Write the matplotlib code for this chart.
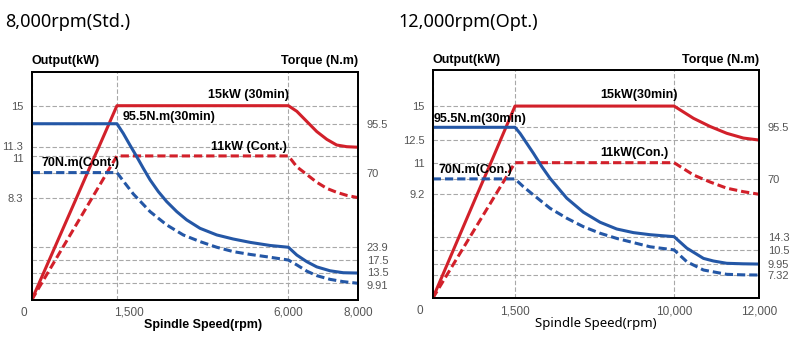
import numpy as np
import matplotlib
matplotlib.use('Agg')
import matplotlib.pyplot as plt
from matplotlib.transforms import ScaledTranslation

plt.rcParams['font.family'] = ['Liberation Sans', 'DejaVu Sans']

# ---- 8,000 rpm (Std.) ----
std_rpm_ticks = [0, 1500, 6000, 8000]
std_rpm_labels = ['0', '1,500', '6,000', '8,000']
std_kw_ticks = [8.3, 11, 11.3, 15]
std_nm_ticks = [9.91, 13.5, 17.5, 23.9, 70, 95.5]

std_p30_rpm = [0, 790, 1110, 1180, 1500, 6000, 6240, 6525, 6810, 7100, 7380, 7670, 8000]
std_p30_kw = [0, 8.3, 11, 11.3, 15, 15, 14.5, 13.6, 12.7, 12.0, 11.5, 11.35, 11.3]
std_pc_rpm = [0, 1065, 1500, 6000, 6240, 6525, 6810, 7100, 7380, 7670, 8000]
std_pc_kw = [0, 8.3, 11, 11, 10.3, 9.8, 9.3, 8.9, 8.65, 8.45, 8.3]
std_t30_rpm = [0, 1500, 1665, 1840, 2020, 2190, 2370, 2585, 2805, 3070, 3330, 3680,
               4120, 4550, 5000, 5520, 6000, 6240, 6525, 6810, 7190, 7570, 8000]
std_t30_nm = [95.5, 95.5, 90.5, 84.4, 78.3, 72.3, 65.5, 58.3, 52.1, 45.9, 40.8, 35.6,
              31.5, 29.0, 26.9, 25.0, 23.9, 20.0, 17.0, 15.4, 14.2, 13.6, 13.5]
std_tc_rpm = [0, 1500, 1710, 1930, 2370, 2805, 3240, 3680, 4120, 4555, 5000, 5520,
              6000, 6240, 6525, 6810, 7190, 7570, 8000]
std_tc_nm = [70, 70, 63.5, 56.8, 45.9, 37.7, 31.5, 27.4, 23.9, 21.7, 20.3, 18.9,
             17.5, 16.0, 14.1, 12.6, 11.3, 10.5, 9.91]

# ---- 12,000 rpm (Opt.) ----
opt_rpm_ticks = [0, 1500, 10000, 12000]
opt_rpm_labels = ['0', '1,500', '10,000', '12,000']
opt_kw_ticks = [9.2, 11, 12.5, 15]
opt_nm_ticks = [7.32, 9.95, 10.5, 14.3, 70, 95.5]

opt_p30_rpm = [0, 810, 1060, 1235, 1500, 10000, 10455, 10845, 11235, 11625, 12000]
opt_p30_kw = [0, 9.2, 11, 12.5, 15, 15, 14.1, 13.5, 13.0, 12.65, 12.5]
opt_pc_rpm = [0, 1150, 1500, 10000, 10455, 10845, 11235, 11625, 12000]
opt_pc_kw = [0, 9.2, 11, 11, 10.3, 9.9, 9.55, 9.35, 9.2]
opt_t30_rpm = [0, 1500, 1770, 2125, 2480, 2930, 3370, 3815, 4265, 5150, 6045, 6935,
               7825, 8715, 10000, 10300, 10690, 10920, 11235, 11625, 12000]
opt_t30_nm = [95.5, 95.5, 92.5, 87.6, 82.7, 76.1, 70.3, 61.0, 51.4, 37.9, 28.2, 21.7,
              18.2, 16.2, 14.3, 11.0, 10.17, 10.07, 9.98, 9.96, 9.95]
opt_tc_rpm = [0, 1500, 1945, 2480, 3370, 4265, 5150, 6045, 6935, 7825, 8715, 10000,
              10300, 10690, 11235, 11625, 12000]
opt_tc_nm = [70, 70, 62.5, 54.6, 41.7, 32.1, 23.95, 17.6, 13.8, 12.6, 11.4, 10.5,
             10.04, 8.52, 7.49, 7.36, 7.32]

# schematic (non linear) axis layout: tick value -> fraction of the axis
std_x_pos = [0, 0.261, 0.786, 1]
std_kw_top, std_kw_pos = 18.0, [0.448, 0.631, 0.669, 0.851]
std_nm_top, std_nm_pos = 122.5, [0.073, 0.118, 0.175, 0.231, 0.558, 0.772]
opt_x_pos = [0, 0.252, 0.739, 1]
opt_kw_top, opt_kw_pos = 17.7, [0.4555, 0.594, 0.693, 0.842]
opt_nm_top, opt_nm_pos = 124.0, [0.102, 0.150, 0.212, 0.270, 0.523, 0.749]

RED = '#d2202a'
BLUE = '#2457a6'
GRID = '#a8a8a8'
TICK = '#555555'


def piecewise(vals, pos):
    vals = np.asarray(vals, float)
    pos = np.asarray(pos, float)
    return (lambda v: np.interp(v, vals, pos),
            lambda f: np.interp(f, pos, vals))


def nudge(label, dx, dy):
    # shift a tick label by (dx, dy) points
    label.set_transform(label.get_transform() + ScaledTranslation(dx / 72, dy / 72, fig.dpi_scale_trans))


fig = plt.figure(figsize=(8, 3.37), dpi=100)


def chart(rect, xt, xl, xpos, kwt, kwtop, kwpos, nmt, nmtop, nmpos,
          p30, pc, t30, tc, texts):
    ax = fig.add_axes(rect)
    ax.set_xscale('function', functions=piecewise(xt, xpos))
    ax.set_yscale('function', functions=piecewise([0] + kwt + [kwtop], [0] + kwpos + [1]))
    ax.set_xlim(xt[0], xt[-1])
    ax.set_ylim(0, kwtop)
    ax2 = ax.twinx()
    ax2.set_yscale('function', functions=piecewise([0] + nmt + [nmtop], [0] + nmpos + [1]))
    ax2.set_ylim(0, nmtop)

    ax.set_xticks(xt)
    ax.set_xticklabels(xl)
    ax.set_yticks(kwt)
    ax.set_yticklabels([f'{v:g}' for v in kwt])
    ax2.set_yticks(nmt)
    ax2.set_yticklabels([f'{v:g}' for v in nmt])
    ax.minorticks_off()
    ax2.minorticks_off()
    for a in (ax, ax2):
        a.tick_params(length=0, labelsize=8, labelcolor=TICK)
        for s in a.spines.values():
            s.set_linewidth(1.3)
    ax.tick_params(axis='x', labelsize=8.5, pad=5)
    ax.tick_params(axis='y', pad=6)
    ax2.tick_params(axis='y', pad=6)
    ax.grid(True, color=GRID, ls=(0, (4, 2)), lw=0.8)
    ax2.grid(True, axis='y', color=GRID, ls=(0, (4, 2)), lw=0.8)

    # all curves on the top axes so the grid of both axes stays underneath
    ax2.plot(p30[0], p30[1], color=RED, lw=2.2, transform=ax.transData)
    ax2.plot(pc[0], pc[1], color=RED, lw=2.2, dashes=(2.7, 1.3), transform=ax.transData)
    ax2.plot(t30[0], t30[1], color=BLUE, lw=2.2)
    ax2.plot(tc[0], tc[1], color=BLUE, lw=2.2, dashes=(2.7, 1.3))

    for s, x, y, ha in texts:
        ax2.text(x, y, s, transform=ax2.transAxes, ha=ha, va='center',
                 fontsize=9, fontweight='bold')
    ax2.text(0, 1.045, 'Output(kW)', transform=ax2.transAxes, ha='left', va='center',
             fontsize=9, fontweight='bold')
    ax2.text(1, 1.045, 'Torque (N.m)', transform=ax2.transAxes, ha='right', va='center',
             fontsize=9, fontweight='bold')
    return ax, ax2


ax, ax2 = chart([0.0396, 0.1098, 0.4083, 0.6775], std_rpm_ticks, std_rpm_labels, std_x_pos,
                std_kw_ticks, std_kw_top, std_kw_pos, std_nm_ticks, std_nm_top, std_nm_pos,
                (std_p30_rpm, std_p30_kw), (std_pc_rpm, std_pc_kw),
                (std_t30_rpm, std_t30_nm), (std_tc_rpm, std_tc_nm),
                [('15kW (30min)', 0.665, 0.898, 'center'),
                 ('95.5N.m(30min)', 0.279, 0.800, 'left'),
                 ('11kW (Cont.)', 0.666, 0.671, 'center'),
                 ('70N.m(Cont.)', 0.031, 0.599, 'left')])
ax2.text(0.524, -0.11, 'Spindle Speed(rpm)', transform=ax2.transAxes, ha='center',
         va='center', fontsize=9, fontweight='bold')
xl = ax.get_xticklabels()
nudge(xl[0], -6, 0)
nudge(xl[1], 8.6, 0)
yl = ax.get_yticklabels()
nudge(yl[1], 0, -1.2)
nudge(yl[2], 0, 1.2)
yr = ax2.get_yticklabels()
nudge(yr[0], 0, -1.5)
nudge(yr[1], 0, 0.5)

ax, ax2 = chart([0.5409, 0.1148, 0.40825, 0.6775], opt_rpm_ticks, opt_rpm_labels, opt_x_pos,
                opt_kw_ticks, opt_kw_top, opt_kw_pos, opt_nm_ticks, opt_nm_top, opt_nm_pos,
                (opt_p30_rpm, opt_p30_kw), (opt_pc_rpm, opt_pc_kw),
                (opt_t30_rpm, opt_t30_nm), (opt_tc_rpm, opt_tc_nm),
                [('15kW(30min)', 0.631, 0.890, 'center'),
                 ('95.5N.m(30min)', 0.002, 0.785, 'left'),
                 ('11kW(Con.)', 0.618, 0.635, 'center'),
                 ('70N.m(Con.)', 0.017, 0.562, 'left')])
ax2.text(0.5, -0.11, 'Spindle Speed(rpm)', transform=ax2.transAxes, ha='center',
         va='center', fontsize=9.5, family='Noto Sans')
nudge(ax.get_xticklabels()[0], -9, 0)

fig.text(5 / 800, 1 - 22 / 337, '8,000rpm(Std.)', fontsize=13, family='Noto Sans', va='center')
fig.text(398 / 800, 1 - 22 / 337, '12,000rpm(Opt.)', fontsize=13, family='Noto Sans', va='center')

fig.savefig('out.png', dpi=100)
